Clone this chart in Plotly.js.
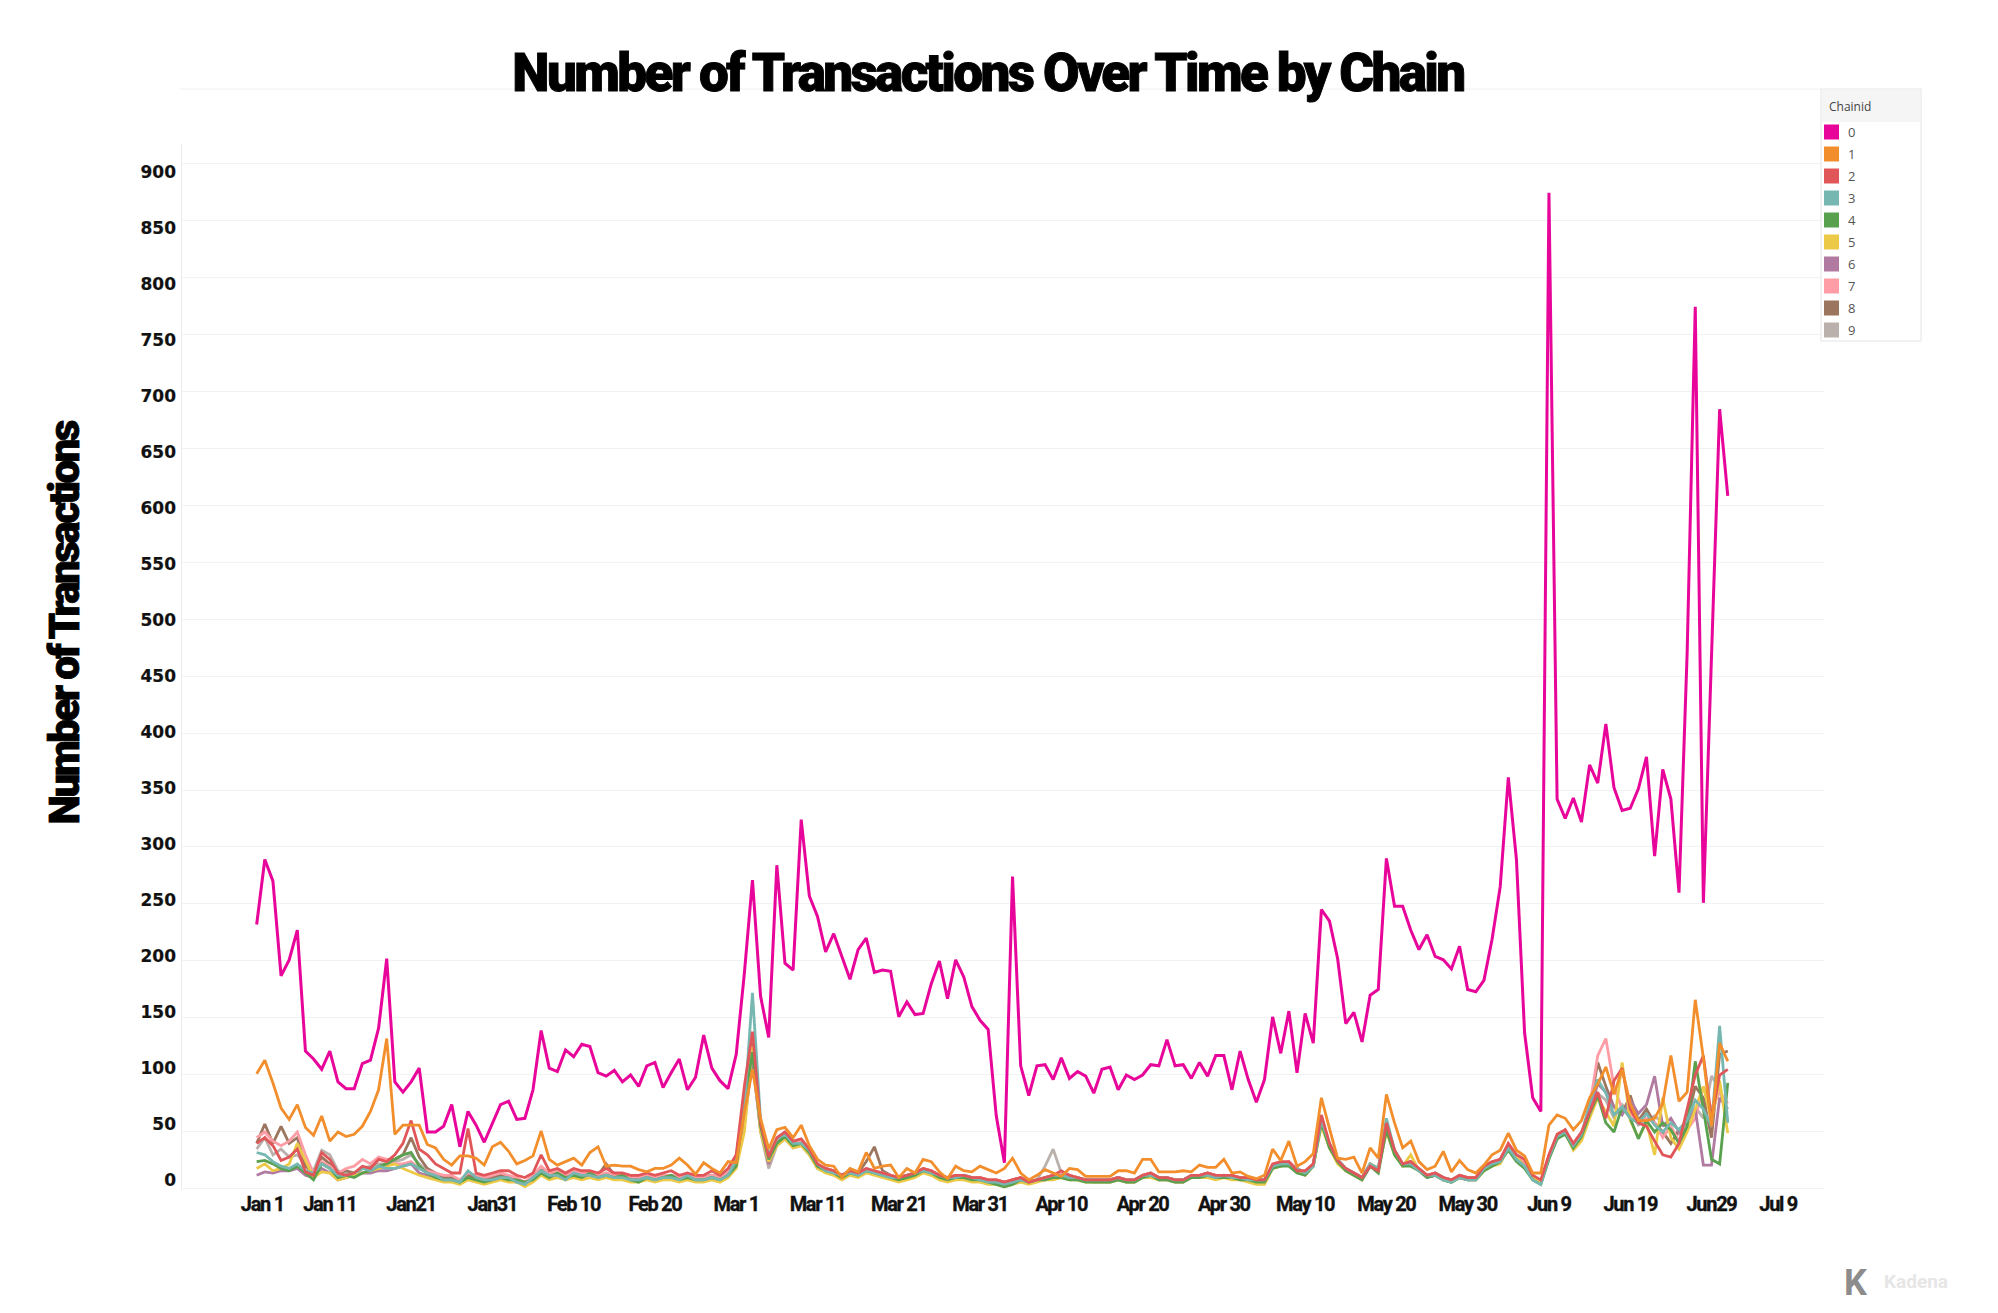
<!DOCTYPE html>
<html><head><meta charset="utf-8">
<script src="https://cdn.plot.ly/plotly-3.0.1.min.js"></script>
<style>
html,body{margin:0;padding:0;background:#fff;}
#chart{width:1998px;height:1313px;}
.gtitle{letter-spacing:-2.6px; stroke:#000; stroke-width:0.9px;}
g.annotation[data-index="0"] text{letter-spacing:-2.5px; stroke:#000; stroke-width:0.8px;}
.xtick text{letter-spacing:-1.3px; stroke:#111; stroke-width:0.35px;}
.y2tick text{stroke:#111; stroke-width:0.2px;}
</style></head><body><div id="chart"></div>
<script>
const startDate = '2024-01-02';
const nDays = 182;
const tickDates = ['2024-01-01','2024-01-11','2024-01-21','2024-01-31','2024-02-10','2024-02-20','2024-03-01','2024-03-11','2024-03-21','2024-03-31','2024-04-10','2024-04-20','2024-04-30','2024-05-10','2024-05-20','2024-05-30','2024-06-09','2024-06-19','2024-06-29','2024-07-09'];
const tickLabels = ['Jan 1','Jan 11','Jan21','Jan31','Feb 10','Feb 20','Mar 1','Mar 11','Mar 21','Mar 31','Apr 10','Apr 20','Apr 30','May 10','May 20','May 30','Jun 9','Jun 19','Jun29','Jul 9'];
const yTicks = [0,50,100,150,200,250,300,350,400,450,500,550,600,650,700,750,800,850,900];
const chainNames = ['0','1','2','3','4','5','6','7','8','9'];
const chainColors = ['#E8059A','#F28E2B','#E15759','#76B7B2','#59A14F','#EDC948','#B07AA1','#FF9DA7','#9C755F','#BAB0AC'];

const chain0 = [232,289,270,187,201,227,121,114,105,121,94,88,88,110,113,141,202,94,85,94,
106,50,50,55,74,37,68,56,41,58,74,77,61,62,87,139,106,103,122,116,
127,125,102,99,104,94,100,90,108,111,89,102,114,87,98,135,106,95,88,118,
189,271,169,133,284,198,192,324,257,239,208,224,203,184,210,220,190,192,191,151,
164,153,154,180,200,167,201,186,160,148,140,64,23,274,108,82,108,109,96,115,
97,103,99,84,105,107,87,100,96,100,109,108,131,108,109,97,111,99,117,117,
87,121,96,76,96,151,119,156,102,154,128,245,235,202,145,155,129,170,175,290,
248,248,227,210,223,204,201,193,213,175,173,183,219,265,361,289,137,80,68,874,
342,325,343,322,372,356,408,352,332,334,351,379,292,368,342,260,470,774,251,470,
684,608];
const chain1 = [101,113,93,71,61,74,54,47,64,42,50,46,48,55,68,87,132,48,56,56,
56,39,36,26,21,29,29,27,21,37,41,33,22,25,29,51,26,21,24,27,
21,32,37,20,21,20,20,17,15,18,18,21,27,21,13,23,18,14,24,23,
67,105,62,35,52,54,45,56,38,26,21,20,10,18,15,32,18,20,21,10,
18,14,26,24,15,9,20,16,15,20,17,14,18,27,14,8,12,17,14,11,
18,17,11,11,11,11,16,16,14,26,26,15,15,15,16,15,21,19,19,26,
14,15,11,9,12,35,25,42,20,24,31,80,53,27,26,28,14,36,27,83,
58,36,42,24,17,20,33,15,25,17,14,21,30,34,49,34,29,14,14,56,
65,62,52,60,80,92,107,83,105,75,60,60,62,75,117,77,85,166,115,55,
128,112];
const chain2 = [40,45,38,25,28,35,15,12,32,26,14,12,14,20,18,26,24,30,40,60,35,
30,22,18,14,14,53,14,12,14,16,16,12,10,14,30,16,18,14,18,16,16,14,18,14,14,12,12,14,12,14,16,12,14,12,12,16,12,18,30,
90,138,58,28,45,50,42,44,35,22,
18,16,12,16,14,18,16,14,12,10,12,14,18,16,12,10,12,12,10,10,8,8,6,8,10,6,8,10,12,16,12,10,8,8,8,8,10,8,8,12,14,10,10,8,8,12,12,14,12,12,12,10,10,8,8,
22,24,24,16,16,22,65,40,25,18,14,10,20,16,58,34,22,24,18,12,14,10,8,12,10,10,20,24,26,40,30,26,12,8,
30,48,52,40,50,68,85,62,95,106,70,58,55,42,30,28,40,70,100,117,62,100,105];
const chain3 = [32,30,24,20,18,22,16,14,22,18,12,12,14,18,16,20,18,18,20,22,18,
14,12,8,8,6,16,10,8,8,10,10,6,4,10,16,12,12,8,14,12,12,10,12,10,10,8,8,10,8,10,10,8,12,8,8,10,8,12,25,
70,172,60,30,44,48,40,40,34,22,
16,14,12,14,12,16,14,12,10,10,12,14,16,14,12,10,10,12,10,8,6,6,4,6,8,6,8,10,12,12,10,10,8,8,8,8,10,8,8,12,12,10,10,8,8,12,12,12,10,12,10,10,8,8,8,
20,22,22,18,14,20,60,40,26,18,14,10,22,18,62,34,22,22,16,12,12,8,6,10,8,8,18,22,24,36,26,20,8,4,
28,46,50,38,48,75,96,84,65,72,62,58,66,56,50,58,52,60,78,70,55,143,58];
const chain4 = [24,25,22,18,16,20,14,8,22,18,10,12,10,14,16,20,22,26,30,32,20,
14,10,8,8,6,10,8,6,8,10,8,8,6,8,14,10,14,10,12,10,14,10,12,10,12,8,6,10,8,10,12,8,10,8,8,10,8,12,20,
75,120,55,26,40,46,38,40,32,20,
16,14,10,14,12,16,14,12,10,8,10,12,16,14,10,8,10,10,8,8,6,4,2,4,8,6,8,8,10,10,8,8,6,6,6,6,8,6,6,10,12,8,8,6,6,10,10,12,10,10,10,8,8,6,6,
18,20,20,14,12,20,58,36,24,16,12,8,20,14,52,30,20,20,16,10,12,8,6,10,8,8,16,20,24,34,24,18,8,4,
26,44,48,36,46,66,82,58,50,72,62,44,60,50,58,52,40,55,112,70,26,22,93];
const chain5 = [18,22,16,18,22,40,25,10,15,14,8,10,12,14,16,18,20,22,18,15,12,
10,8,6,6,4,8,6,4,6,8,6,6,2,6,12,8,10,8,10,8,10,8,10,8,8,6,6,8,6,8,8,6,8,6,6,8,6,10,18,
50,125,50,24,38,44,36,38,30,18,
14,12,8,12,10,14,12,10,8,6,8,10,14,12,8,6,8,8,6,6,4,4,2,4,6,4,6,8,8,10,8,8,6,6,6,6,8,6,6,10,10,8,8,6,6,10,10,10,8,10,8,8,6,4,4,
18,20,22,16,12,20,55,36,22,16,12,8,22,18,50,30,20,30,16,12,12,8,6,10,8,8,16,20,22,36,28,20,10,6,
28,45,50,34,42,62,80,68,55,111,60,45,58,30,80,45,35,50,70,90,60,95,49];
const chain6 = [12,15,14,16,16,18,12,10,18,14,8,10,12,14,14,16,16,18,20,22,14,
12,10,8,8,6,10,8,6,8,10,8,6,4,8,14,10,12,8,12,10,12,10,12,10,10,8,8,10,8,10,10,8,10,8,8,10,8,12,22,
60,112,52,22,40,46,38,40,32,20,
16,14,10,14,12,16,14,12,10,8,10,12,16,14,10,8,10,10,8,8,6,6,4,6,8,6,8,8,10,12,10,8,8,6,6,6,8,6,6,10,12,8,8,6,6,10,10,12,10,10,10,8,8,6,6,
20,20,22,16,14,20,60,36,24,16,12,8,20,16,55,32,22,22,16,10,12,8,6,10,8,8,18,22,24,38,26,20,10,6,
28,44,50,36,46,70,92,85,72,65,78,66,74,99,55,62,50,60,70,21,21,80,70];
const chain7 = [45,50,42,38,42,50,30,14,24,20,14,18,20,26,22,28,26,22,22,24,18,
16,14,12,12,8,14,12,10,12,14,12,10,6,12,20,14,16,12,16,14,14,12,14,12,12,10,10,12,10,12,12,10,12,10,10,12,10,14,26,
65,122,56,28,42,48,40,42,34,22,
18,16,12,16,14,18,16,14,12,10,12,14,18,16,12,10,12,12,10,10,8,8,6,8,10,6,8,10,12,14,12,10,8,8,8,8,10,8,8,12,14,10,10,8,8,12,12,14,12,12,12,10,10,8,8,
20,22,24,18,14,22,62,40,26,18,14,10,20,16,56,32,22,24,18,12,14,10,8,12,10,10,18,22,26,40,30,24,10,6,
30,46,52,38,48,72,117,132,90,70,66,60,62,58,45,55,42,52,62,90,70,85,75];
const chain8 = [40,57,40,55,40,45,20,14,28,22,14,16,14,18,18,26,26,26,30,45,28,
18,14,10,10,6,12,10,8,10,12,10,8,4,10,18,12,14,10,14,12,14,12,22,12,12,10,10,12,10,12,12,10,12,10,10,12,10,14,28,
80,130,55,26,42,48,40,42,32,20,
18,16,12,16,14,24,37,16,12,10,12,14,18,16,12,10,12,12,10,10,8,8,6,8,10,6,8,10,12,14,12,10,8,8,8,8,10,8,8,12,14,10,10,8,8,12,12,14,12,12,12,10,10,8,8,
20,22,22,18,14,22,64,38,24,18,14,10,22,18,58,34,22,24,18,12,14,10,8,12,10,10,18,22,26,38,28,22,10,6,
28,44,50,38,46,70,111,90,72,66,82,60,70,58,50,40,52,60,90,80,45,118,121];
const chain9 = [35,45,30,35,28,30,22,16,34,30,16,14,12,18,20,22,22,24,26,30,22,
16,12,10,10,8,12,10,8,10,12,10,8,6,10,16,12,14,10,14,12,14,12,14,12,12,10,10,12,10,12,12,10,12,10,10,12,10,14,22,
55,115,50,18,38,44,36,38,30,18,
16,14,12,14,12,16,14,12,10,10,12,14,16,14,12,10,10,12,10,8,6,6,4,6,8,6,8,20,35,14,10,10,8,8,8,8,10,8,8,12,12,10,10,8,8,12,12,12,10,12,10,10,8,8,8,
20,22,22,18,14,22,60,38,24,18,14,10,22,18,54,32,22,24,18,12,14,10,8,12,10,10,18,22,26,38,28,22,10,6,
28,44,50,36,46,66,84,78,62,74,68,56,60,64,58,50,48,56,72,62,99,88,60];

const series = [chain0,chain1,chain2,chain3,chain4,chain5,chain6,chain7,chain8,chain9];

const DAY = 86400000;
const dates = [];
const s0 = new Date(startDate + 'T00:00:00Z');
for (let i = 0; i < nDays; i++) {
  dates.push(new Date(s0.getTime() + i*DAY).toISOString().slice(0,10));
}
series.forEach((s,i)=>{ if (s.length !== nDays) console.log('len', i, s.length); });

// edge tick labels sit slightly inward in the original
const tickPos = tickDates.map((d, i) => {
  const t = new Date(d + 'T00:00:00Z').getTime();
  let shift = 0;
  if (i === 0) shift = 1.7;
  if (i === tickDates.length - 1) shift = -1.8;
  return new Date(t + shift*DAY).toISOString().replace('T',' ').slice(0,16);
});

const traces = [];
for (let i = series.length - 1; i >= 0; i--) {
  traces.push({
    type: 'scatter', mode: 'lines', name: chainNames[i],
    x: dates, y: series[i],
    line: {color: chainColors[i], width: i === 0 ? 3 : 2.8},
    hoverinfo: 'skip'
  });
}
// empty carrier so the tick-label axis (y2) is drawn; it draws nothing
traces.push({type: 'scatter', mode: 'lines', x: [null], y: [null], yaxis: 'y2', showlegend: false, hoverinfo: 'skip'});

const L = 182, R = 1824, T = 144, B = 1190;
const px = p => (p - L) / (R - L);
const py = p => (B - p) / (B - T);

const shapes = [];
const annotations = [];
// y axis title (annotation index 0)
annotations.push({xref:'paper', yref:'paper', x: px(64), y: py(624), xanchor:'center', yanchor:'middle', showarrow:false, textangle:-90,
  text:'Number of Transactions', font:{family:'Roboto Black, Roboto, Arial', size:42, weight:900, color:'#000'}});
// faint top frame line
shapes.push({type:'line', xref:'paper', yref:'paper', x0: px(180), x1: px(1821), y0: py(89), y1: py(89), line:{color:'#f0f0f0', width:1}});
// legend box
shapes.push({type:'rect', xref:'paper', yref:'paper', x0: px(1821), x1: px(1921), y0: py(341), y1: py(89), line:{color:'#e4e4e4', width:1}, fillcolor:'#ffffff'});
shapes.push({type:'rect', xref:'paper', yref:'paper', x0: px(1822), x1: px(1920), y0: py(122), y1: py(90), line:{width:0}, fillcolor:'#f5f5f5'});
annotations.push({xref:'paper', yref:'paper', x: px(1827), y: py(106), xanchor:'left', yanchor:'middle', showarrow:false, text:'Chainid', font:{family:'Open Sans, Arial', size:12, color:'#444'}});
chainNames.forEach((n,i)=>{
  const cy = 132 + 22*i;
  shapes.push({type:'rect', xref:'paper', yref:'paper', x0: px(1824), x1: px(1839), y0: py(cy+7.5), y1: py(cy-7.5), line:{width:0}, fillcolor: chainColors[i]});
  annotations.push({xref:'paper', yref:'paper', x: px(1846), y: py(cy), xanchor:'left', yanchor:'middle', showarrow:false, text:n, font:{family:'Open Sans, Arial', size:13, color:'#555'}});
});
// watermark
annotations.push({xref:'paper', yref:'paper', x: px(1856), y: py(1283), xanchor:'center', yanchor:'middle', showarrow:false, text:'<b>K</b>', font:{family:'Roboto, Arial', size:36, color:'#8c8c8c'}});
annotations.push({xref:'paper', yref:'paper', x: px(1882), y: py(1281), xanchor:'left', yanchor:'middle', showarrow:false, text:'<b>Kadena</b>', font:{family:'Roboto, Arial', size:19, color:'#e6e6e6'}});

const yFont = {family: 'DejaVu Sans, Arial', size: 17, weight: 700, color: '#111'};
const layout = {
  width: 1998, height: 1313,
  margin: {l: L, r: 1998 - R, t: T, b: 1313 - B},
  paper_bgcolor: '#ffffff', plot_bgcolor: '#ffffff',
  showlegend: false,
  title: {text: 'Number of Transactions Over Time by Chain', x: 988/1998, xref: 'container', xanchor: 'center', y: 1 - 72/1313, yref: 'container', yanchor: 'middle',
    font: {family: 'Roboto Black, Roboto, Arial', size: 53, weight: 900, color: '#000'}},
  xaxis: {type: 'date', range: ['2023-12-23 19:30', '2024-07-12 20:10'],
    tickmode: 'array', tickvals: tickPos, ticktext: tickLabels,
    tickfont: {family: 'Roboto, Inter, Arial', size: 20, weight: 700, color: '#111'},
    showgrid: false, zeroline: false, showline: false, ticks: ''},
  yaxis: {range: [-0.9, 916.7], tickmode: 'array', tickvals: yTicks, showticklabels: false,
    gridcolor: '#f2f2f2', gridwidth: 1, zeroline: false, showline: true, linecolor: '#ececec', linewidth: 1, ticks: ''},
  yaxis2: {overlaying: 'y', side: 'left', anchor: 'x', range: [-8.75, 925.1], tickmode: 'array', tickvals: yTicks,
    tickfont: yFont, ticklabelstandoff: 5,
    showgrid: false, zeroline: false, showline: false, ticks: ''},
  shapes: shapes, annotations: annotations
};
Plotly.newPlot('chart', traces, layout, {staticPlot: true, displayModeBar: false});
</script></body></html>
